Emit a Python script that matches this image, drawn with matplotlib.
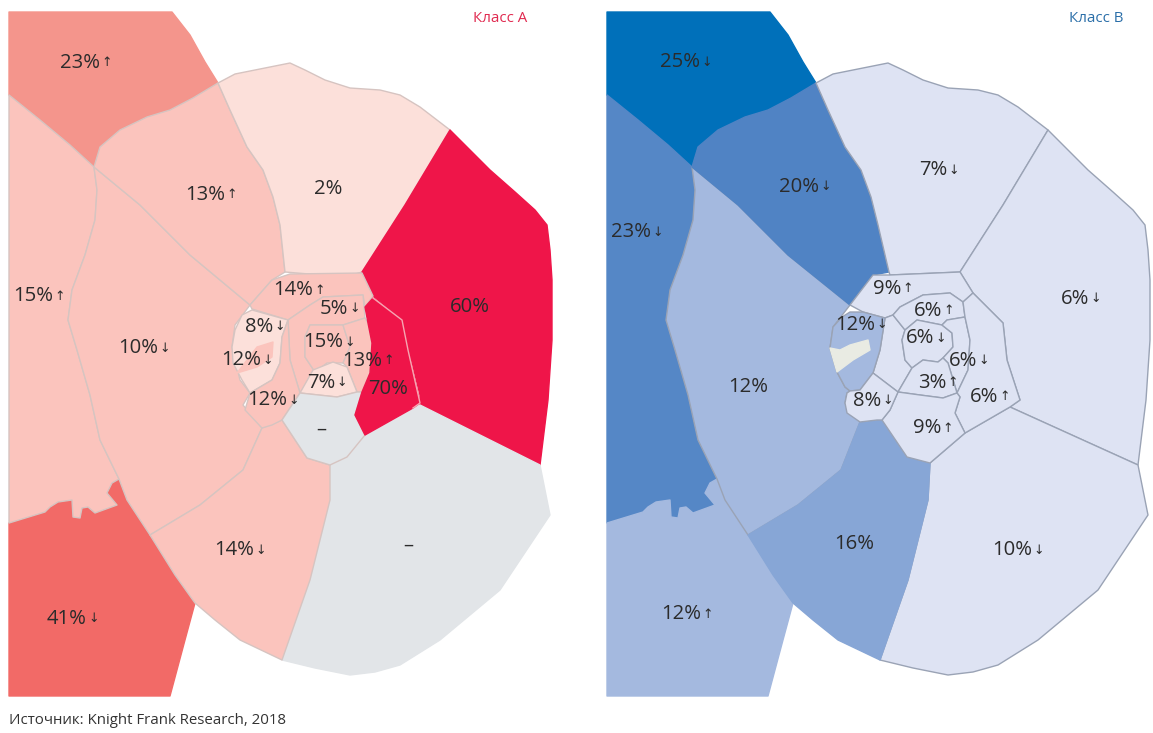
#!/usr/bin/env python3

import matplotlib
matplotlib.use('Agg')
import matplotlib.pyplot as plt

plt.rcParams['font.family'] = ['Open Sans', 'DejaVu Sans']

# labels
a_values = ['23%', '13%', '2%', '15%', '14%', '5%', '8%', '15%', '12%', '13%',
            '10%', '7%', '70%', '12%', '60%', '–', '–', '14%', '41%']
a_trend = ['up', 'up', '', 'up', 'up', 'down', 'down', 'down', 'down', 'up',
           'down', 'down', '', 'down', '', '', '', 'down', 'down']
b_values = ['25%', '7%', '20%', '23%', '9%', '6%', '6%', '12%', '6%', '6%',
            '3%', '12%', '8%', '6%', '9%', '16%', '10%', '12%']
b_trend = ['down', 'down', 'down', 'down', 'up', 'down', 'up', 'down', 'down', 'down',
           'up', '', 'down', 'up', 'up', '', 'down', 'up']

# where the labels sit, in image pixels
a_pos = [(80, 63), (205, 195), (328, 189), (33, 296), (293, 290), (334, 309),
         (259, 327), (323, 342), (241, 360), (362, 361), (138, 348), (321, 383),
         (388, 389), (267, 400), (470, 307), (321, 430), (408, 546), (234, 550), (67, 619)]
b_pos = [(680, 62), (933, 170), (799, 187), (631, 232), (887, 289), (1075, 299),
         (928, 311), (855, 325), (920, 338), (963, 361), (932, 383), (748, 387),
         (867, 401), (984, 397), (927, 428), (854, 544), (1012, 550), (681, 614)]

# district outlines, traced in image pixels on the left map
nw = [(9, 12), (172, 12), (190, 35), (205, 62), (218, 83), (193, 98), (170, 110), (147, 117), (120, 130),
      (100, 147), (94, 167), (70, 145), (40, 120), (9, 95)]
west = [(9, 95), (40, 120), (70, 145), (94, 167), (97, 190), (95, 220), (85, 255), (72, 290),
        (68, 320), (77, 350), (90, 395), (100, 440), (119, 479), (112, 483), (107, 493), (117, 505),
        (95, 513), (88, 507), (82, 508), (80, 518), (73, 517), (72, 500), (58, 502), (50, 507),
        (45, 512), (9, 523)]
sw = [(9, 523), (45, 512), (50, 507), (58, 502), (72, 500), (73, 517), (80, 518), (82, 508), (88, 507),
      (95, 513), (117, 505), (107, 493), (112, 483), (119, 479), (127, 500), (150, 535), (175, 575),
      (195, 603), (185, 640), (170, 696), (9, 696)]
wcentral = [(94, 167), (140, 205), (190, 255), (250, 305), (235, 325), (232, 347), (240, 380),
            (250, 393), (243, 405), (262, 428), (243, 470), (200, 505), (150, 535), (127, 500),
            (119, 479), (100, 440), (90, 395), (77, 350), (68, 320), (72, 290), (85, 255),
            (95, 220), (97, 190)]
nwcentral = [(94, 167), (100, 147), (120, 130), (147, 117), (170, 110), (193, 98), (218, 83), (230, 110),
             (247, 147), (263, 170), (273, 197), (280, 225), (285, 272), (272, 280), (250, 305),
             (190, 255), (140, 205)]
north = [(218, 83), (235, 74), (265, 68), (290, 63), (305, 70), (325, 80), (350, 88), (380, 90), (400, 95),
         (420, 107), (450, 130), (405, 205), (362, 272), (345, 277), (285, 272), (280, 225), (273, 197),
         (263, 170), (247, 147), (230, 110)]
east = [(450, 130), (470, 150), (490, 170), (515, 192), (535, 210), (547, 225), (550, 250), (552, 280),
        (552, 340), (548, 400), (540, 465), (420, 405), (420, 395), (412, 362), (405, 340), (403, 320),
        (373, 296), (362, 272), (405, 205)]
southeast = [(420, 405), (540, 465), (545, 490), (550, 515), (530, 545), (500, 590), (470, 615), (440, 640),
             (400, 665), (375, 672), (350, 675), (315, 668), (282, 660), (310, 580), (330, 500), (330, 465),
             (347, 457), (365, 435), (413, 408)]
south = [(150, 535), (200, 505), (243, 470), (262, 428), (282, 420), (307, 458), (330, 465),
         (330, 500), (310, 580), (282, 660), (240, 640), (215, 620), (195, 603), (175, 575)]

# centre of the left map
a_top = [(250, 305), (272, 280), (290, 274), (362, 273), (373, 296), (365, 307), (363, 295),
         (323, 297), (310, 305), (288, 320), (252, 309)]
a_5 = [(288, 320), (310, 305), (323, 297), (363, 295), (365, 318), (343, 325), (310, 325), (305, 337),
       (305, 357), (315, 372), (300, 393), (290, 360)]
a_15 = [(310, 325), (343, 325), (350, 347), (343, 363), (327, 363), (315, 372), (305, 357), (305, 337)]
a_13 = [(365, 318), (368, 323), (372, 343), (370, 373), (362, 392), (357, 392), (347, 367), (343, 363),
        (350, 347), (343, 325)]
a_7 = [(300, 393), (313, 370), (333, 362), (347, 367), (357, 392), (337, 397)]
a_lagoon = [(242, 315), (252, 310), (288, 320), (282, 337), (280, 363), (272, 380), (250, 393),
            (242, 380), (233, 363), (232, 347), (235, 330)]
a_lake = [(237, 373), (257, 347), (273, 342), (272, 357), (257, 367)]
a_12 = [(250, 393), (272, 380), (280, 363), (282, 337), (288, 320), (290, 360), (300, 393), (282, 420),
        (272, 425), (262, 428), (245, 410)]
a_70 = [(365, 307), (373, 298), (402, 320), (408, 350), (420, 403), (413, 408), (365, 435), (355, 415),
        (362, 392), (370, 373), (372, 343), (368, 323)]
a_gray = [(300, 393), (337, 397), (357, 392), (362, 392), (355, 415), (365, 435), (347, 457),
          (330, 465), (307, 458), (282, 420)]

# centre of the right map
b_top = [(850, 305), (873, 275), (890, 275), (960, 272), (973, 293), (963, 302), (950, 293), (923, 295),
         (900, 307), (893, 315), (885, 318), (863, 312)]
b_6a = [(893, 315), (900, 307), (923, 295), (950, 293), (963, 302), (965, 317), (947, 320), (942, 325),
        (917, 320), (905, 330)]
b_6b = [(917, 320), (942, 325), (952, 333), (953, 347), (943, 358), (938, 362), (923, 360), (912, 368),
        (905, 360), (902, 340), (905, 330)]
b_6c = [(947, 320), (965, 317), (970, 340), (968, 370), (957, 393), (948, 363), (943, 358), (953, 347),
        (952, 333), (942, 325)]
b_3 = [(898, 392), (912, 368), (923, 360), (938, 362), (943, 358), (948, 363), (957, 393), (943, 398),
       (920, 395)]
b_6d = [(973, 293), (963, 302), (965, 317), (970, 340), (968, 370), (957, 393), (960, 397), (955, 413),
        (965, 433), (1010, 407), (1020, 400), (1007, 360), (1003, 323), (987, 307)]
b_9 = [(898, 392), (920, 395), (943, 398), (957, 393), (960, 397), (955, 413), (965, 433), (930, 463),
       (907, 457), (882, 420), (890, 410)]
b_8 = [(845, 403), (847, 393), (850, 391), (860, 390), (873, 373), (898, 392), (890, 410), (882, 420),
       (877, 420), (860, 422), (847, 413)]
b_strip = [(885, 318), (893, 315), (905, 330), (902, 340), (905, 360), (912, 368), (898, 392), (873, 373),
           (880, 350)]
b_lagoon = [(842, 317), (850, 312), (863, 312), (885, 318), (880, 350), (873, 373), (860, 390), (850, 391),
            (845, 387), (837, 372), (830, 348), (833, 327)]
b_lake = [(830, 348), (840, 350), (850, 345), (868, 340), (870, 350), (853, 360), (837, 372)]
b_east = [(973, 293), (987, 307), (1003, 323), (1007, 360), (1020, 400), (1010, 407), (1138, 465),
          (1146, 400), (1150, 340), (1150, 280), (1148, 250), (1145, 225), (1133, 210), (1113, 192),
          (1088, 170), (1068, 150), (1048, 130), (1003, 205), (960, 272)]
b_se = [(1010, 407), (1138, 465), (1143, 490), (1148, 515), (1128, 545), (1098, 590), (1068, 615),
        (1038, 640), (998, 665), (973, 672), (948, 675), (913, 668), (880, 660), (908, 580), (928, 500),
        (930, 463), (965, 433)]
b_south = [(748, 535), (798, 505), (841, 470), (860, 422), (877, 420), (882, 420), (907, 457), (930, 463),
           (928, 500), (908, 580), (880, 660), (838, 640), (813, 620), (793, 603), (773, 575)]
b_wcentral = [(692, 167), (738, 205), (788, 255), (850, 305), (833, 327), (830, 348), (837, 372), (845, 387),
              (850, 391), (847, 393), (845, 403), (860, 422), (841, 470), (798, 505), (748, 535), (725, 500),
              (717, 479), (698, 440), (688, 395), (675, 350), (666, 320), (670, 290), (683, 255), (693, 220),
              (695, 190)]
b_nwcentral = [(692, 167), (698, 147), (718, 130), (745, 117), (768, 110), (791, 98), (816, 83), (828, 110),
               (845, 147), (861, 170), (871, 197), (878, 225), (889, 272), (873, 275), (850, 305), (788, 255),
               (738, 205)]
b_north = [(816, 83), (833, 74), (863, 68), (888, 63), (903, 70), (923, 80), (948, 88), (978, 90), (998, 95),
           (1018, 107), (1048, 130), (1003, 205), (960, 272), (890, 275), (889, 272), (878, 225), (871, 197),
           (861, 170), (845, 147), (828, 110)]


def shifted(pts):
    return [(x + 598, y) for x, y in pts]


pale_red = '#fbc4bd'
light_red = '#fce0da'
salmon = '#f4958c'
coral = '#f26a67'
red = '#ef1549'
gray = '#e2e5e8'
edge_a = '#d6c4c1'

pale_blue = '#dee3f3'
mid_blue = '#a4b9df'
edge_b = '#9aa3b5'

# fill, and the colour of the outline (None: same as the fill)
a_regions = [(nw, salmon, None), (sw, coral, None), (west, pale_red, edge_a), (wcentral, pale_red, edge_a),
             (nwcentral, pale_red, edge_a), (north, light_red, edge_a), (east, red, None),
             (southeast, gray, None), (south, pale_red, edge_a),
             (a_top, pale_red, edge_a), (a_5, pale_red, edge_a), (a_15, pale_red, edge_a),
             (a_13, pale_red, edge_a), (a_7, light_red, edge_a), (a_lagoon, light_red, edge_a),
             (a_lake, pale_red, None), (a_12, pale_red, edge_a), (a_gray, gray, edge_a), (a_70, red, None)]

b_regions = [(shifted(nw), '#0070ba', None), (shifted(west), '#5587c6', None), (shifted(sw), mid_blue, None),
             (b_wcentral, mid_blue, edge_b), (b_nwcentral, '#5083c4', None), (b_north, pale_blue, edge_b),
             (b_east, pale_blue, edge_b), (b_se, pale_blue, edge_b), (b_south, '#87a6d6', None),
             (b_top, pale_blue, edge_b), (b_strip, pale_blue, edge_b), (b_lagoon, mid_blue, edge_b),
             (b_lake, '#e9ebe3', None), (b_6a, pale_blue, edge_b), (b_6b, pale_blue, edge_b),
             (b_6c, pale_blue, edge_b), (b_3, pale_blue, edge_b), (b_6d, pale_blue, edge_b),
             (b_9, pale_blue, edge_b), (b_8, pale_blue, edge_b)]

fig = plt.figure(figsize=(11.53, 7.33), dpi=100)
ax = fig.add_axes([0, 0, 1, 1])
ax.set_xlim(0, 1153)
ax.set_ylim(733, 0)
ax.axis('off')


def draw_map(regions):
    for pts, color, edge in regions:
        xs = [p[0] for p in pts]
        ys = [p[1] for p in pts]
        ax.fill(xs, ys, facecolor=color, edgecolor=edge or color, linewidth=1.0, joinstyle='round')


def draw_labels(values, trend, pos):
    for v, t, (x, y) in zip(values, trend, pos):
        label = ax.text(x, y, v, fontsize=14.6, color='#2b2b2b', ha='center', va='center')
        if t:
            arrow = '↑' if t == 'up' else '↓'
            ax.annotate(arrow, xy=(1, 0.5), xycoords=label, xytext=(1, 0), textcoords='offset points',
                        fontsize=9, family='DejaVu Sans', color='#2b2b2b', ha='left', va='center')


draw_map(a_regions)
draw_map(b_regions)

# pale line between the two red districts
ax.plot([p[0] for p in a_70[1:6]], [p[1] for p in a_70[1:6]], color='#f6a6b2', linewidth=1.0)

draw_labels(a_values, a_trend, a_pos)
draw_labels(b_values, b_trend, b_pos)

ax.text(500, 19, 'Класс А', fontsize=10.8, color='#e0294f', ha='center', va='center')
ax.text(1096, 19, 'Класс В', fontsize=10.8, color='#2a6ea8', ha='center', va='center')
ax.text(9, 721, 'Источник: Knight Frank Research, 2018', fontsize=10.8, color='#333333', ha='left', va='center')

plt.savefig('out.png', dpi=100)
